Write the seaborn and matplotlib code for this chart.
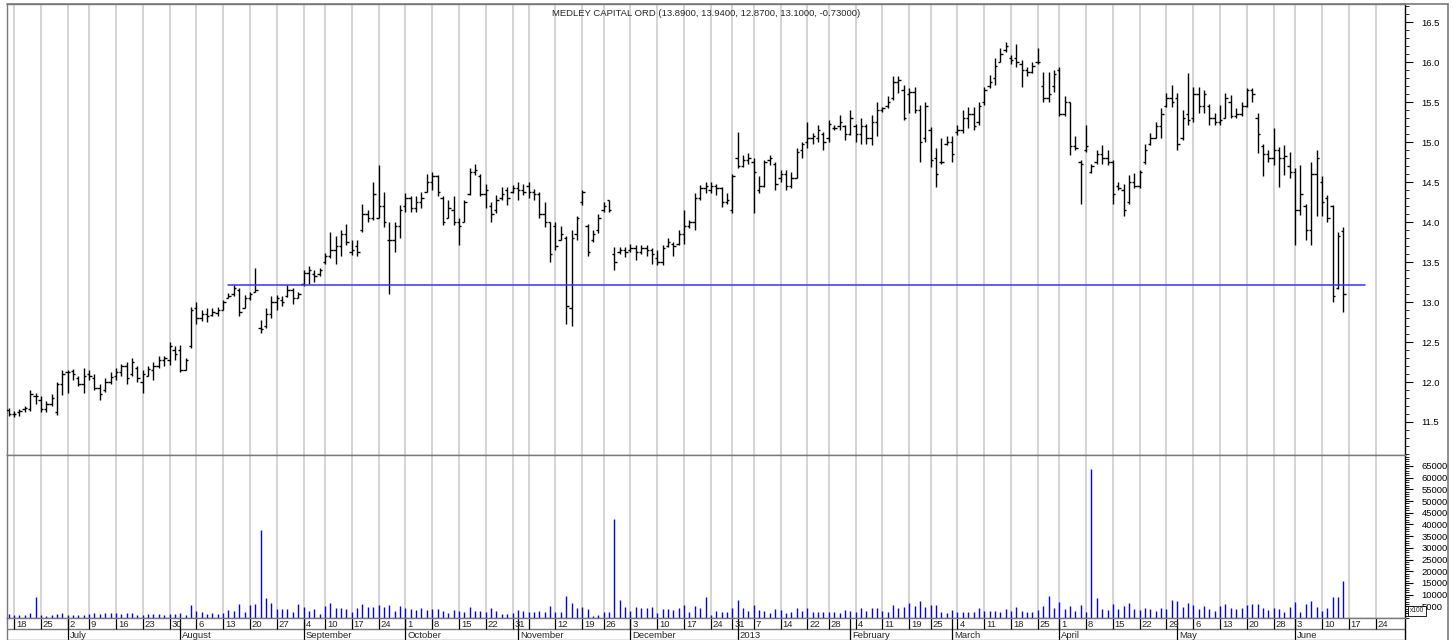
import numpy as np
import pandas as pd
import matplotlib.pyplot as plt
import seaborn as sns
from matplotlib.lines import Line2D
from matplotlib.ticker import MultipleLocator

# ---- data -------------------------------------------------------------
title = 'MEDLEY CAPITAL ORD (13.8900, 13.9400, 12.8700, 13.1000, -0.73000)'
first_day = '2012-06-15'
last_axis_day = '2013-06-28'
market_holidays = ['2012-07-04', '2012-09-03', '2012-10-29', '2012-10-30', '2012-11-22',
                   '2012-12-25', '2013-01-01', '2013-01-21', '2013-02-18', '2013-03-29',
                   '2013-05-27']
hidden_week_labels = ['2012-11-05']

opens = [
    11.65, 11.60, 11.62, 11.66, 11.66, 11.82, 11.78, 11.66, 11.72, 11.62,
    11.98, 12.12, 12.14, 12.05, 11.98, 12.10, 12.05, 11.93, 11.90, 12.00,
    12.08, 12.12, 12.20, 12.10, 12.18, 12.00, 12.08, 12.15, 12.20, 12.28,
    12.28, 12.40, 12.40, 12.15, 12.45, 12.92, 12.80, 12.85, 12.84, 12.86,
    12.90, 13.05, 13.10, 13.15, 12.92, 13.05, 13.12, 12.68, 12.70, 12.85,
    13.00, 13.02, 13.08, 13.15, 13.05, 13.22, 13.36, 13.35, 13.35, 13.50,
    13.58, 13.65, 13.70, 13.85, 13.62, 13.70, 13.90, 14.10, 14.05, 14.05,
    14.20, 13.78, 13.78, 13.95, 14.20, 14.30, 14.18, 14.25, 14.38, 14.50,
    14.58, 14.30, 14.05, 14.15, 14.00, 14.00, 14.35, 14.62, 14.58, 14.35,
    14.20, 14.15, 14.30, 14.40, 14.38, 14.42, 14.40, 14.45, 14.38, 14.35,
    14.10, 14.00, 13.95, 13.78, 13.80, 12.92, 13.85, 14.25, 13.95, 13.78,
    13.90, 14.15, 14.28, 13.60, 13.62, 13.65, 13.65, 13.68, 13.62, 13.68,
    13.65, 13.55, 13.50, 13.70, 13.72, 13.72, 13.85, 13.95, 14.00, 14.30,
    14.42, 14.40, 14.45, 14.42, 14.25, 14.15, 14.80, 14.70, 14.78, 14.75,
    14.40, 14.45, 14.78, 14.72, 14.55, 14.60, 14.45, 14.55, 14.90, 15.00,
    15.05, 15.05, 15.10, 15.05, 15.18, 15.20, 15.20, 15.10, 15.20, 15.10,
    15.20, 15.05, 15.25, 15.40, 15.45, 15.55, 15.75, 15.65, 15.60, 15.62,
    15.40, 15.05, 15.15, 14.80, 14.75, 14.98, 15.00, 15.12, 15.15, 15.30,
    15.35, 15.25, 15.50, 15.70, 15.80, 16.00, 16.15, 16.05, 16.05, 15.98,
    15.90, 15.88, 16.00, 15.70, 15.55, 15.70, 15.90, 15.35, 15.50, 14.95,
    14.75, 14.90, 14.62, 14.75, 14.85, 14.80, 14.75, 14.45, 14.40, 14.25,
    14.50, 14.45, 14.75, 14.98, 15.05, 15.20, 15.45, 15.55, 15.55, 15.05,
    15.35, 15.30, 15.60, 15.45, 15.45, 15.30, 15.25, 15.30, 15.50, 15.32,
    15.35, 15.45, 15.65, 15.30, 14.95, 14.85, 14.80, 14.90, 14.80, 14.70,
    14.62, 14.15, 14.20, 13.90, 14.60, 14.50, 14.30, 14.20, 13.18, 13.89,
]
highs = [
    11.68, 11.64, 11.66, 11.70, 11.90, 11.86, 11.82, 11.76, 11.85, 12.00,
    12.15, 12.15, 12.16, 12.08, 12.17, 12.15, 12.10, 11.98, 12.05, 12.12,
    12.17, 12.23, 12.25, 12.30, 12.20, 12.15, 12.20, 12.25, 12.32, 12.32,
    12.50, 12.45, 12.46, 12.30, 12.94, 13.00, 12.90, 12.92, 12.92, 12.94,
    13.02, 13.11, 13.21, 13.17, 13.09, 13.12, 13.42, 12.78, 12.92, 13.08,
    13.09, 13.07, 13.21, 13.17, 13.13, 13.40, 13.45, 13.40, 13.42, 13.61,
    13.88, 13.82, 13.90, 13.98, 13.77, 13.78, 14.23, 14.15, 14.50, 14.71,
    14.37, 14.00, 14.00, 14.21, 14.36, 14.32, 14.32, 14.38, 14.60, 14.63,
    14.59, 14.32, 14.27, 14.32, 14.05, 14.27, 14.67, 14.73, 14.60, 14.48,
    14.25, 14.34, 14.44, 14.44, 14.46, 14.50, 14.48, 14.50, 14.41, 14.38,
    14.25, 14.00, 14.00, 13.95, 13.82, 13.90, 14.07, 14.40, 13.98, 13.90,
    14.10, 14.25, 14.28, 13.69, 13.69, 13.69, 13.73, 13.71, 13.71, 13.71,
    13.67, 13.65, 13.71, 13.80, 13.75, 13.90, 14.15, 14.02, 14.36, 14.46,
    14.50, 14.50, 14.48, 14.44, 14.36, 14.60, 15.13, 14.84, 14.86, 14.80,
    14.57, 14.78, 14.84, 14.75, 14.65, 14.65, 14.63, 14.92, 15.00, 15.25,
    15.11, 15.21, 15.13, 15.28, 15.21, 15.34, 15.21, 15.40, 15.23, 15.30,
    15.23, 15.34, 15.50, 15.44, 15.57, 15.82, 15.82, 15.71, 15.67, 15.69,
    15.46, 15.50, 15.19, 14.92, 15.05, 15.07, 15.07, 15.21, 15.40, 15.44,
    15.44, 15.50, 15.69, 15.84, 16.05, 16.17, 16.25, 16.09, 16.23, 16.02,
    15.94, 16.00, 16.17, 15.88, 15.88, 15.90, 15.94, 15.57, 15.50, 15.07,
    14.78, 15.21, 14.73, 14.90, 14.96, 14.90, 14.78, 14.50, 14.48, 14.59,
    14.61, 14.65, 14.98, 15.11, 15.25, 15.42, 15.61, 15.71, 15.61, 15.40,
    15.86, 15.69, 15.69, 15.65, 15.48, 15.36, 15.46, 15.61, 15.59, 15.42,
    15.50, 15.67, 15.67, 15.36, 14.98, 14.90, 15.17, 14.94, 14.96, 14.88,
    14.67, 14.71, 14.23, 14.75, 14.90, 14.57, 14.34, 14.21, 13.87, 13.94,
]
lows = [
    11.58, 11.56, 11.58, 11.62, 11.64, 11.72, 11.62, 11.63, 11.70, 11.59,
    11.84, 11.86, 12.03, 11.95, 11.86, 12.02, 11.90, 11.78, 11.88, 11.98,
    12.02, 12.07, 11.98, 12.08, 12.00, 11.86, 12.07, 12.02, 12.17, 12.20,
    12.21, 12.28, 12.13, 12.15, 12.42, 12.73, 12.76, 12.75, 12.82, 12.82,
    12.90, 13.05, 13.08, 12.82, 12.92, 13.02, 13.12, 12.61, 12.68, 12.80,
    12.90, 12.95, 13.06, 12.98, 13.05, 13.20, 13.23, 13.25, 13.33, 13.48,
    13.55, 13.48, 13.57, 13.71, 13.59, 13.57, 13.88, 14.00, 14.03, 14.05,
    13.94, 13.10, 13.63, 13.80, 14.13, 14.13, 14.13, 14.17, 14.38, 14.40,
    14.32, 13.96, 14.05, 13.96, 13.71, 14.00, 14.34, 14.59, 14.32, 14.17,
    14.00, 14.11, 14.27, 14.21, 14.36, 14.28, 14.34, 14.30, 14.28, 14.05,
    13.94, 13.50, 13.65, 13.78, 12.72, 12.70, 13.78, 14.21, 13.57, 13.75,
    13.86, 14.13, 14.13, 13.40, 13.60, 13.56, 13.62, 13.52, 13.60, 13.57,
    13.48, 13.46, 13.46, 13.69, 13.57, 13.71, 13.73, 13.92, 13.90, 14.28,
    14.36, 14.36, 14.34, 14.19, 14.23, 14.11, 14.67, 14.69, 14.73, 14.11,
    14.36, 14.44, 14.71, 14.40, 14.50, 14.40, 14.42, 14.55, 14.80, 14.92,
    14.98, 15.00, 14.90, 15.00, 15.15, 15.15, 15.03, 15.09, 15.00, 14.98,
    14.98, 14.96, 15.07, 15.38, 15.42, 15.53, 15.61, 15.28, 15.36, 15.36,
    14.75, 15.00, 14.69, 14.44, 14.73, 14.96, 14.75, 15.09, 15.11, 15.17,
    15.15, 15.21, 15.46, 15.67, 15.71, 16.00, 16.13, 15.98, 15.94, 15.69,
    15.82, 15.86, 15.98, 15.50, 15.50, 15.63, 15.32, 15.32, 14.84, 14.90,
    14.23, 14.88, 14.61, 14.73, 14.73, 14.71, 14.23, 14.40, 14.07, 14.23,
    14.42, 14.42, 14.73, 14.96, 15.05, 15.05, 15.44, 15.44, 14.90, 15.03,
    15.21, 15.25, 15.36, 15.36, 15.21, 15.21, 15.21, 15.30, 15.30, 15.30,
    15.32, 15.44, 15.50, 14.86, 14.57, 14.75, 14.71, 14.44, 14.59, 14.55,
    13.71, 14.09, 13.78, 13.71, 14.07, 14.07, 14.00, 13.00, 13.16, 12.87,
]
closes = [
    11.60, 11.60, 11.64, 11.68, 11.85, 11.83, 11.66, 11.72, 11.80, 11.98,
    12.10, 12.12, 12.10, 11.98, 12.08, 12.08, 11.93, 11.85, 12.00, 12.06,
    12.12, 12.20, 12.05, 12.25, 12.05, 12.10, 12.16, 12.20, 12.28, 12.30,
    12.45, 12.35, 12.15, 12.28, 12.90, 12.80, 12.85, 12.82, 12.88, 12.90,
    13.00, 13.08, 13.18, 12.88, 13.05, 13.10, 13.15, 12.66, 12.85, 13.00,
    13.05, 13.00, 13.15, 13.05, 13.10, 13.36, 13.40, 13.32, 13.40, 13.58,
    13.65, 13.70, 13.85, 13.75, 13.65, 13.62, 14.10, 14.05, 14.35, 14.20,
    14.00, 13.78, 13.95, 14.15, 14.30, 14.18, 14.25, 14.30, 14.50, 14.58,
    14.38, 14.00, 14.18, 14.00, 13.95, 14.25, 14.62, 14.65, 14.35, 14.40,
    14.10, 14.28, 14.35, 14.30, 14.42, 14.40, 14.38, 14.38, 14.35, 14.10,
    14.00, 13.60, 13.70, 13.85, 12.95, 13.80, 14.05, 14.38, 13.62, 13.85,
    14.05, 14.20, 14.15, 13.50, 13.65, 13.62, 13.68, 13.62, 13.68, 13.65,
    13.60, 13.50, 13.68, 13.75, 13.70, 13.85, 13.95, 14.00, 14.30, 14.42,
    14.45, 14.45, 14.42, 14.25, 14.28, 14.58, 14.70, 14.78, 14.80, 14.62,
    14.45, 14.75, 14.80, 14.48, 14.60, 14.45, 14.55, 14.88, 14.98, 15.05,
    15.08, 15.15, 15.00, 15.22, 15.18, 15.25, 15.10, 15.30, 15.10, 15.20,
    15.05, 15.25, 15.40, 15.42, 15.50, 15.75, 15.78, 15.30, 15.62, 15.40,
    15.00, 15.45, 14.78, 14.60, 14.75, 15.00, 14.85, 15.15, 15.30, 15.35,
    15.20, 15.45, 15.65, 15.75, 15.95, 16.10, 16.20, 16.02, 16.00, 15.90,
    15.88, 15.95, 16.00, 15.55, 15.60, 15.85, 15.35, 15.50, 14.95, 14.92,
    14.72, 14.95, 14.70, 14.85, 14.80, 14.75, 14.35, 14.42, 14.15, 14.50,
    14.45, 14.62, 14.90, 15.05, 15.20, 15.35, 15.55, 15.50, 14.98, 15.30,
    15.28, 15.60, 15.45, 15.60, 15.30, 15.25, 15.28, 15.55, 15.32, 15.35,
    15.45, 15.65, 15.60, 15.10, 14.85, 14.80, 14.90, 14.80, 14.82, 14.62,
    14.15, 14.35, 13.90, 14.60, 14.80, 14.25, 14.05, 13.08, 13.83, 13.10,
]
# volume in hundreds of shares (axis is marked x100)
volumes = [
    1700, 1300, 1300, 1300, 2300, 8800, 1300, 850, 1100, 1600,
    2000, 1300, 1100, 1400, 1300, 1700, 2000, 1600, 2300, 2300,
    2300, 1600, 2300, 2300, 1300, 1300, 1850, 1850, 1600, 1100,
    1850, 1600, 2000, 1300, 5600, 3000, 2400, 1850, 2300, 1600,
    2300, 3600, 2850, 6100, 2600, 5600, 6100, 37600, 8400, 6400,
    3850, 3850, 3850, 2700, 5800, 4700, 3000, 3850, 1700, 5100,
    6400, 4400, 4100, 3850, 2400, 4400, 6100, 4700, 4700, 5600,
    4700, 5400, 3000, 5000, 4300, 3700, 3400, 4400, 3400, 3850,
    4000, 3000, 2300, 3400, 3000, 2400, 4700, 3100, 3000, 2400,
    4100, 3100, 1700, 1700, 2000, 3400, 3000, 2700, 2400, 3000,
    2700, 5100, 2400, 2700, 9400, 6400, 4100, 4700, 3850, 1000,
    1400, 2400, 2400, 42300, 7700, 4700, 3000, 4700, 4100, 4100,
    4700, 2000, 3850, 3850, 3400, 4100, 5600, 2700, 5100, 4400,
    8800, 1300, 3000, 2700, 2700, 4100, 7700, 4100, 3000, 5600,
    3400, 3000, 2000, 3850, 3400, 2000, 2700, 4400, 3000, 4400,
    2400, 2400, 2700, 2700, 2400, 2000, 3400, 3100, 2400, 4100,
    3000, 4400, 4100, 3000, 2400, 5600, 4100, 4700, 6400, 5100,
    7300, 4700, 5600, 5600, 2700, 2000, 3400, 2400, 2700, 2400,
    2400, 4400, 3000, 3000, 3000, 2700, 3700, 3000, 4600, 3000,
    2400, 2400, 3400, 5100, 9400, 4400, 6800, 3700, 5100, 3000,
    5600, 2700, 63700, 8400, 3700, 3400, 5800, 3700, 5100, 6600,
    3700, 3400, 4400, 3700, 3000, 4100, 3700, 7700, 7300, 4700,
    6600, 5400, 3700, 5100, 3700, 3000, 5100, 6100, 4100, 3850,
    4100, 5400, 5800, 6100, 4400, 3400, 4400, 3850, 2400, 4700,
    6800, 2400, 5800, 7400, 4700, 3000, 4100, 9100, 8800, 16000,
]

support_level = 13.21
support_from = '2012-08-14'
support_to = '2013-06-20'

# ---- trading calendar ---------------------------------------------------
days = pd.bdate_range(first_day, last_axis_day)
days = days[~days.isin(pd.to_datetime(market_holidays))]
cal = pd.DataFrame({'date': days, 'x': np.arange(len(days))})
n = len(opens)
df = pd.DataFrame({'date': days[:n], 'x': np.arange(n), 'open': opens, 'high': highs,
                   'low': lows, 'close': closes, 'volume': volumes})

week_first = cal.groupby(cal['date'].dt.to_period('W-SUN')).first().iloc[1:]
month_first = cal.groupby(cal['date'].dt.to_period('M')).first().iloc[1:]
hidden = pd.to_datetime(hidden_week_labels)

def xpos(day):
    return cal.loc[cal['date'] == pd.Timestamp(day), 'x'].iloc[0]

# ---- figure -------------------------------------------------------------
sns.set_theme(style='white')
plt.rcParams['font.family'] = ['Liberation Sans', 'DejaVu Sans']
W, H = 1453, 640
fig = plt.figure(figsize=(W / 100, H / 100), dpi=100)
left, right = 7, 1405
ax = fig.add_axes([left / W, 1 - 455 / H, (right - left) / W, (455 - 4) / H])
axv = fig.add_axes([left / W, 1 - 618 / H, (right - left) / W, (618 - 455) / H])
axd = fig.add_axes([left / W, 0, (right - left) / W, 22 / H])

xlim = (-0.32, 260.5)
frame = '#7a7a7a'
grid = '#cdcdcd'
fs = 6.8

for a in (ax, axv, axd):
    a.set_xlim(*xlim)
    a.set_xticks([])
    a.set_facecolor('white')
    for s in a.spines.values():
        s.set_color(frame)
        s.set_linewidth(1.0)
    a.spines['right'].set_color('black')

# week grid lines
for a in (ax, axv):
    a.vlines(week_first['x'], 0, 1, transform=a.get_xaxis_transform(),
             color=grid, lw=1.2, zorder=0)

# OHLC bars
ax.vlines(df['x'], df['low'], df['high'], color='black', lw=1.0, zorder=3)
ax.hlines(df['open'], df['x'] - 0.45, df['x'], color='black', lw=1.0, zorder=3)
ax.hlines(df['close'], df['x'], df['x'] + 0.45, color='black', lw=1.0, zorder=3)

# support line
sup = pd.DataFrame({'x': [xpos(support_from), xpos(support_to)],
                    'y': [support_level, support_level]})
sns.lineplot(data=sup, x='x', y='y', ax=ax, color='#3333ff', lw=1.1, zorder=4)
ax.set_xlabel('')
ax.set_ylabel('')

ax.set_ylim(11.0875, 16.725)
ax.yaxis.tick_right()
ax.yaxis.set_major_locator(MultipleLocator(0.5))
ax.yaxis.set_minor_locator(MultipleLocator(0.1))
ax.yaxis.set_major_formatter(plt.FormatStrFormatter('%.1f'))
ax.set_xlim(*xlim)
ax.text(0.5, 0.98, title, transform=ax.transAxes, ha='center', va='center', fontsize=fs)

# volume
axv.vlines(df['x'], 0, df['volume'], color='#0000ff', lw=1.0, zorder=3)
axv.set_ylim(0, 69660)
axv.yaxis.tick_right()
axv.yaxis.set_major_locator(MultipleLocator(5000))
axv.yaxis.set_minor_locator(MultipleLocator(1000))
axv.set_yticks(np.arange(5000, 65001, 5000))
axv.yaxis.set_major_formatter(plt.FormatStrFormatter('%d'))

for a in (ax, axv):
    a.tick_params(axis='y', which='major', direction='out', length=6, width=0.8,
                  colors='black', labelsize=fs, pad=6, right=True, left=False)
    a.tick_params(axis='y', which='minor', direction='out', length=3, width=0.6,
                  colors='black', right=True, left=False)
axd.set_yticks([])

# date rows
axd.set_ylim(0, 2)
axd.axhline(1, color=frame, lw=1.0)
axd.vlines(week_first['x'], 1, 2, color='black', lw=0.9)
for d, x in zip(week_first['date'], week_first['x']):
    if d in hidden:
        continue
    axd.text(x + 0.35, 1.45, str(d.day), ha='left', va='center', fontsize=fs)
axd.vlines(month_first['x'], 0, 2, color='black', lw=0.9)
for d, x in zip(month_first['date'], month_first['x']):
    name = str(d.year) if d.month == 1 else d.strftime('%B')
    axd.text(x + 0.35, 0.45, name, ha='left', va='center', fontsize=fs)

# outer frame to the right of the axis
fig.add_artist(Line2D([left / W, 1448 / W], [1 - 4 / H, 1 - 4 / H], color=frame, lw=1.2))
fig.add_artist(Line2D([1448 / W, 1448 / W], [0, 1 - 4 / H], color=frame, lw=1.2))
fig.text(1417 / W, 1 - 611 / H, 'x100', fontsize=4.8, ha='center', va='center',
         bbox=dict(boxstyle='square,pad=0.25', fc='white', ec='black', lw=0.6))

fig.savefig('out.png', dpi=100)
